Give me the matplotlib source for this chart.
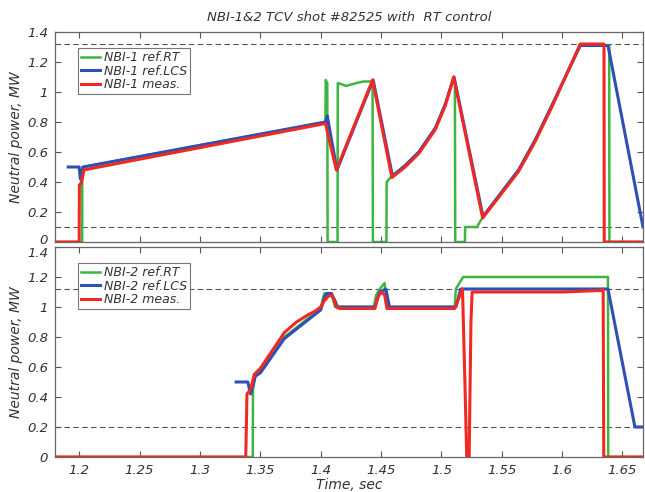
import matplotlib
matplotlib.use("Agg")
import matplotlib.pyplot as plt
from matplotlib.transforms import ScaledTranslation

# ---------------- data: NBI-1 (top panel) ----------------
t1_rt = [1.18, 1.2025, 1.2026, 1.2035, 1.404, 1.4042, 1.4055, 1.4058, 1.414, 1.4142, 1.418, 1.421,
         1.425, 1.43, 1.435, 1.443, 1.4433, 1.4545, 1.4547, 1.459, 1.47, 1.4813, 1.495, 1.5033,
         1.5102, 1.5112, 1.5115, 1.5195, 1.5197, 1.5295, 1.5345, 1.5639, 1.5777, 1.5915, 1.615,
         1.639, 1.6392, 1.667]
p1_rt = [0.0, 0.0, 0.5, 0.5, 0.80, 1.08, 1.06, 0.0, 0.0, 1.06, 1.05, 1.04,
         1.05, 1.06, 1.07, 1.07, 0.0, 0.0, 0.40, 0.44, 0.51, 0.60, 0.76, 0.92,
         1.10, 1.08, 0.0, 0.0, 0.10, 0.10, 0.17, 0.48, 0.68, 0.91, 1.31,
         1.31, 0.0, 0.0]

t1_lcs = [1.191, 1.2, 1.201, 1.2033, 1.404, 1.4055, 1.4135, 1.4435, 1.4595, 1.47, 1.4813, 1.495,
          1.5033, 1.5105, 1.5345, 1.5639, 1.5777, 1.5915, 1.615, 1.638, 1.667]
p1_lcs = [0.5, 0.5, 0.42, 0.5, 0.80, 0.84, 0.48, 1.08, 0.44, 0.51, 0.60, 0.76,
          0.92, 1.10, 0.17, 0.48, 0.68, 0.91, 1.31, 1.31, 0.10]

t1_meas = [1.18, 1.2, 1.2002, 1.2015, 1.2025, 1.204, 1.21, 1.404, 1.413, 1.443, 1.459, 1.47,
           1.4813, 1.495, 1.5033, 1.5102, 1.5342, 1.5639, 1.5777, 1.5915, 1.615, 1.6347,
           1.6349, 1.667]
p1_meas = [0.0, 0.0, 0.38, 0.39, 0.42, 0.48, 0.49, 0.79, 0.48, 1.08, 0.43, 0.50,
           0.59, 0.75, 0.91, 1.10, 0.16, 0.47, 0.67, 0.90, 1.32, 1.32,
           0.0, 0.0]

# ---------------- data: NBI-2 (bottom panel) ----------------
t2_rt = [1.18, 1.3438, 1.344, 1.346, 1.35, 1.37, 1.40, 1.403, 1.409, 1.412, 1.444, 1.446,
         1.449, 1.453, 1.455, 1.511, 1.512, 1.518, 1.638, 1.6382, 1.667]
p2_rt = [0.0, 0.0, 0.45, 0.55, 0.58, 0.80, 0.99, 1.09, 1.09, 1.0, 1.0, 1.08,
         1.12, 1.16, 1.0, 1.0, 1.12, 1.20, 1.20, 0.0, 0.0]

t2_lcs = [1.330, 1.3397, 1.342, 1.346, 1.35, 1.37, 1.40, 1.403, 1.405, 1.409, 1.412, 1.414,
          1.445, 1.449, 1.454, 1.457, 1.512, 1.516, 1.638, 1.6603, 1.667]
p2_lcs = [0.5, 0.5, 0.42, 0.54, 0.56, 0.79, 0.98, 1.06, 1.09, 1.09, 1.04, 1.0,
          1.0, 1.10, 1.12, 1.0, 1.0, 1.12, 1.12, 0.2, 0.2]

t2_meas = [1.18, 1.338, 1.339, 1.342, 1.345, 1.35, 1.36, 1.37, 1.38, 1.39, 1.395, 1.40,
           1.403, 1.406, 1.409, 1.411, 1.413, 1.416, 1.445, 1.447, 1.450, 1.453, 1.455,
           1.511, 1.514, 1.5175, 1.5195, 1.521, 1.523, 1.5245, 1.5255, 1.60, 1.632, 1.634,
           1.6345, 1.667]
p2_meas = [0.0, 0.0, 0.42, 0.45, 0.55, 0.59, 0.71, 0.83, 0.90, 0.95, 0.97, 1.0,
           1.04, 1.07, 1.08, 1.05, 1.0, 0.99, 0.99, 1.06, 1.10, 1.08, 0.99,
           0.99, 1.05, 1.12, 0.5, 0.0, 0.0, 0.9, 1.10, 1.10, 1.11, 1.12,
           0.0, 0.0]

limits1 = [1.32, 0.10]
limits2 = [1.12, 0.20]

x_ticks = [1.2, 1.25, 1.3, 1.35, 1.4, 1.45, 1.5, 1.55, 1.6, 1.65]
x_ticklabels = ["1.2", "1.25", "1.3", "1.35", "1.4", "1.45", "1.5", "1.55", "1.6", "1.65"]
y_ticks = [0, 0.2, 0.4, 0.6, 0.8, 1.0, 1.2, 1.4]
y_ticklabels = ["0", "0.2", "0.4", "0.6", "0.8", "1", "1.2", "1.4"]

labels1 = ["NBI-1 ref.RT", "NBI-1 ref.LCS", "NBI-1 meas."]
labels2 = ["NBI-2 ref.RT", "NBI-2 ref.LCS", "NBI-2 meas."]

# ---------------- styling ----------------
GREEN = "#3db541"
BLUE = "#2e4fb4"
RED = "#f02a22"
TXT = "#333333"

plt.rcParams["font.family"] = ["DejaVu Sans"]
plt.rcParams["font.style"] = "italic"

fig = plt.figure(figsize=(6.45, 4.92), dpi=100)
W, H = 645.0, 492.0
left, right = 55 / W, 643 / W
ax1 = fig.add_axes([left, 1 - 242 / H, right - left, 210 / H])
ax2 = fig.add_axes([left, 1 - 457 / H, right - left, 210 / H])


def style(ax, show_x):
    ax.set_xlim(1.18, 1.667)
    ax.set_ylim(0, 1.4)
    ax.set_xticks(x_ticks)
    ax.set_yticks(y_ticks)
    ax.set_yticklabels(y_ticklabels, fontsize=9.5, color=TXT, style="italic")
    if show_x:
        ax.set_xticklabels(x_ticklabels, fontsize=9.5, color=TXT, style="italic")
    else:
        ax.set_xticklabels([])
    ax.tick_params(direction="in", top=True, right=True, length=4, width=0.8,
                   color="#555555", pad=5)
    for s in ax.spines.values():
        s.set_color("#666666")
        s.set_linewidth(0.9)
    ax.set_ylabel("Neutral power, MW", fontsize=10, color=TXT, style="italic", labelpad=3)


for ax, (tr, pr, tl, pl, tm, pm, lims, labs) in zip(
        [ax1, ax2],
        [(t1_rt, p1_rt, t1_lcs, p1_lcs, t1_meas, p1_meas, limits1, labels1),
         (t2_rt, p2_rt, t2_lcs, p2_lcs, t2_meas, p2_meas, limits2, labels2)]):
    for v in lims:
        ax.axhline(v, color="#555555", lw=0.8, ls=(0, (5, 3)), zorder=1)
    ax.plot(tr, pr, color=GREEN, lw=1.8, label=labs[0], zorder=2)
    ax.plot(tl, pl, color=BLUE, lw=2.2, label=labs[1], zorder=3)
    ax.plot(tm, pm, color=RED, lw=2.2, label=labs[2], zorder=4)
    leg = ax.legend(loc="upper left", bbox_to_anchor=(0.039, 0.924), borderaxespad=0,
                    handlelength=1.5, handletextpad=0.3, borderpad=0.25,
                    labelspacing=0.05, fancybox=False, framealpha=1,
                    edgecolor="#777777", prop={"style": "italic", "size": 9})
    leg.get_frame().set_linewidth(0.8)
    for txt in leg.get_texts():
        txt.set_color(TXT)

style(ax1, False)
style(ax2, True)
# keep the "0" / "1.4" labels at the panel junction from colliding
lab0 = ax1.get_yticklabels()[0]
lab0.set_transform(lab0.get_transform() + ScaledTranslation(0, 3.5 / 100, fig.dpi_scale_trans))
ax2.get_yticklabels()[-1].set_verticalalignment("top")

ax2.set_xlabel("Time, sec", fontsize=10, color=TXT, style="italic", labelpad=1)
ax1.set_title("NBI-1&2 TCV shot #82525 with  RT control", fontsize=9.5, color=TXT,
              style="italic", pad=8)

fig.savefig("out.png", dpi=100)
